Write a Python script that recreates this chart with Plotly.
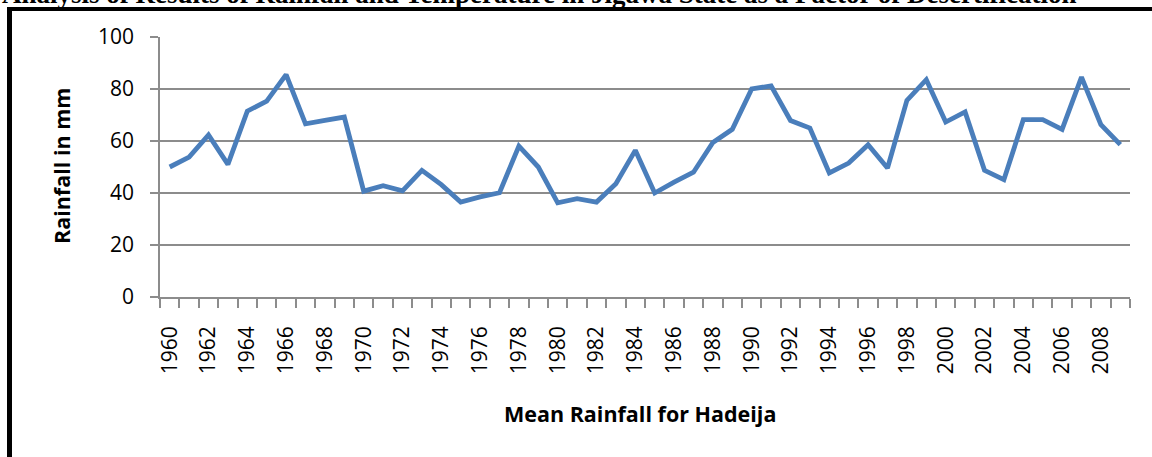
import plotly.graph_objects as go

years = list(range(1960, 2010))
rainfall = [50.0, 53.8, 62.3, 51.0, 71.5, 75.3, 85.5, 66.6, 67.9, 69.2,
            40.7, 42.8, 40.8, 48.7, 43.2, 36.5, 38.5, 40.1, 58.0, 50.0,
            36.2, 37.8, 36.5, 43.6, 56.4, 40.0, 44.2, 48.0, 59.4, 64.5,
            80.0, 81.2, 67.9, 65.0, 47.7, 51.5, 58.6, 49.6, 75.6, 83.6,
            67.3, 71.2, 48.7, 45.1, 68.2, 68.2, 64.5, 84.6, 66.3, 58.6]
tick_years = years[::2]
tick_labels = [str(y) for y in tick_years]
y_ticks = [0, 20, 40, 60, 80, 100]

W, H = 1152, 457
L, R, T, B = 160, 22, 37, 160
pw, ph = W - L - R, H - T - B

def px(x):
    return (x - L) / pw

def py(y):
    return (H - B - y) / ph

font = "Open Sans"
grid = "#8c8c8c"

fig = go.Figure()
fig.add_trace(go.Scatter(x=years, y=rainfall, mode="lines",
                         line=dict(color="#4a7ebb", width=4.8),
                         showlegend=False, hoverinfo="x+y"))

fig.update_xaxes(range=[1959.5, 2009.5], tickmode="array", tickvals=tick_years,
                 ticktext=tick_labels, tickangle=-90, ticks="outside", ticklen=0,
                 showline=True, linecolor=grid, linewidth=1.5, showgrid=False,
                 zeroline=False, ticklabelstandoff=19,
                 tickfont=dict(family=font, size=21, color="black"),
                 minor=dict(tick0=1959.5, dtick=1, ticks="outside", ticklen=9,
                            tickcolor=grid, tickwidth=1.5, showgrid=False))
fig.update_yaxes(range=[0, 100], tickmode="array", tickvals=y_ticks,
                 ticks="outside", ticklen=8, tickcolor=grid, tickwidth=1.5,
                 showline=True, linecolor=grid, linewidth=1.5,
                 showgrid=True, gridcolor=grid, gridwidth=1.5, zeroline=False,
                 ticklabelstandoff=12,
                 tickfont=dict(family=font, size=21, color="black"))

fig.add_annotation(text="Rainfall in mm", textangle=-90, xref="paper", yref="paper",
                   x=px(61), y=py(166), xanchor="center", yanchor="middle",
                   showarrow=False,
                   font=dict(family=font, size=21.5, color="black", weight="bold"))
fig.add_annotation(text="Mean Rainfall for Hadeija", xref="paper", yref="paper",
                   x=px(640), y=py(413), xanchor="center", yanchor="middle",
                   showarrow=False,
                   font=dict(family=font, size=21.5, color="black", weight="bold"))
fig.add_annotation(text="Analysis of Results of Rainfall and Temperature in Jigawa State as a Factor of Desertification",
                   xref="paper", yref="paper", x=px(0), y=py(-6), xanchor="left",
                   yanchor="middle", showarrow=False,
                   font=dict(family="Liberation Serif", size=27, color="black", weight="bold"))

fig.add_shape(type="line", xref="paper", yref="paper", x0=px(7), x1=px(1160),
              y0=py(9), y1=py(9), line=dict(color="black", width=4))
fig.add_shape(type="line", xref="paper", yref="paper", x0=px(9.5), x1=px(9.5),
              y0=py(7), y1=py(470), line=dict(color="black", width=5))

fig.update_layout(width=W, height=H, margin=dict(l=L, r=R, t=T, b=B, autoexpand=False),
                  paper_bgcolor="white", plot_bgcolor="white")
fig.write_html("out.html", config={"displayModeBar": False},
               post_script="document.body.style.margin='0';")
